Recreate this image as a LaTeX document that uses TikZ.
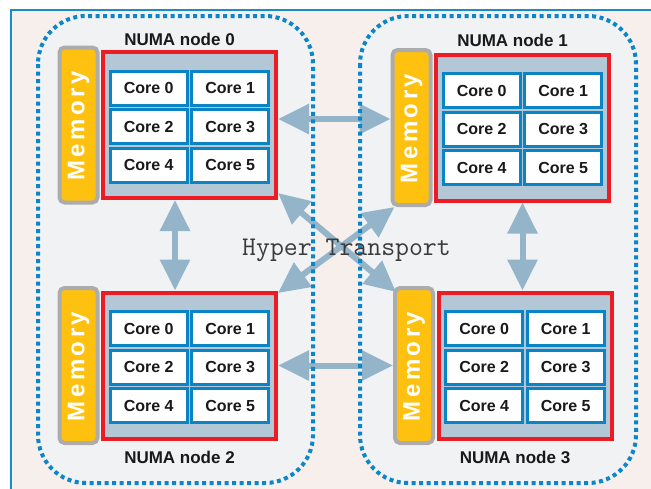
\documentclass[tikz,border=0pt]{standalone}
\usepackage{fontspec}
\setsansfont{Liberation Sans}
\usepackage{tikz}
\usetikzlibrary{arrows.meta,positioning}

\definecolor{framebl}{HTML}{1A8CC8}
\definecolor{bgpink}{HTML}{F7EFEC}
\definecolor{colgray}{HTML}{F1F2F4}
\definecolor{dotbl}{HTML}{0A86C9}
\definecolor{memyel}{HTML}{FEC110}
\definecolor{memgray}{HTML}{ACACAC}
\definecolor{cpured}{HTML}{EC1C24}
\definecolor{cpufill}{HTML}{B3C7D6}
\definecolor{corebl}{HTML}{0B84C6}
\definecolor{linkbl}{HTML}{94B5C9}
\definecolor{txtgray}{HTML}{3A3A3A}

\newcommand\memword{M\kern3.5pt e\kern3.5pt m\kern3.5pt o\kern3.5pt r\kern3.5pt y}

\begin{document}
\begin{tikzpicture}[x=1pt,y=-1pt,
	numa/.style={draw=cpured,fill=cpufill,line width=4pt,minimum width=173pt,minimum height=146pt,inner sep=0pt},
	mem/.style={draw=memgray,fill=memyel,line width=4pt,rounded corners=5pt,minimum width=38pt,minimum height=155pt,inner sep=0pt},
	memtext/.style={rotate=90,text=white,font=\sffamily\bfseries\fontsize{24}{24}\selectfont,inner sep=0pt},
	core/.style={draw=corebl,fill=white,line width=3pt,minimum width=77pt,minimum height=34pt,inner sep=0pt,font=\sffamily\bfseries\fontsize{16}{16}\selectfont,text=black!90},
	numalabel/.style={font=\sffamily\bfseries\fontsize{17}{17}\selectfont,text=black!90,inner sep=0pt},
	link/.style={draw=linkbl,line width=6pt,{Triangle[length=31pt,width=29pt]}-{Triangle[length=31pt,width=29pt]}},
	column/.style={rounded corners=48pt}]
				\useasboundingbox (0,0) rectangle (651,488);
				\clip (0,0) rectangle (651,488);
				\fill[white] (0,0) rectangle (651,488);
				\draw[draw=framebl,fill=bgpink,line width=2pt] (11,10) rectangle (680,520);
				\fill[colgray,column] (38,16) rectangle (313,483);
				\fill[colgray,column] (360,16) rectangle (636,483);
				\node[numa] (cpu0) at (189.5,125) {};
				\node[numa] (cpu1) at (522.5,127.5) {};
				\node[numa] (cpu2) at (189.5,365.5) {};
				\node[numa] (cpu3) at (525,365.5) {};
				\foreach \n in {0,...,3}{
					\node[mem,left=1.5pt of cpu\n] (mem\n) {};
					\node[memtext,xshift=-1pt] (mtxt\n) at (mem\n) {\memword};
					\foreach \k/\dx/\dy in {0/-40.75/37,1/40.75/37,2/-40.75/-1.5,3/40.75/-1.5,4/-40.75/-40,5/40.75/-40}
						\node[core,xshift=\dx pt,yshift=\dy pt] (core\n\k) at (cpu\n) {Core \k};
				}
				\node[numalabel,above=4pt of cpu0.north,xshift=-10pt] (lab0) {NUMA node 0};
				\node[numalabel,above=6pt of cpu1.north,xshift=-10pt] (lab1) {NUMA node 1};
				\node[numalabel,below=10pt of cpu2.south,xshift=-10pt] (lab2) {NUMA node 2};
				\node[numalabel,below=10pt of cpu3.south,xshift=-10pt] (lab3) {NUMA node 3};
				\draw[link] ([yshift=6pt]cpu0.east) -- ([yshift=8.5pt]mem1.west);
				\draw[link] (cpu2.east) -- (mem3.west);
				\draw[link] ([xshift=-14.5pt]cpu0.south) -- ([xshift=-14.5pt]cpu2.north);
				\draw[link] (cpu1.south) -- (cpu1.south |- cpu3.north);
				\draw[link] ([yshift=7pt]cpu0.south east) -- ([xshift=3pt,yshift=-6pt]mem3.north west);
				\draw[link] ([xshift=4pt]mem1.south west) -- ([yshift=-2.5pt]cpu2.north east);
				\draw[dotbl,line width=4pt,dash pattern=on 4pt off 3.5pt,column] (38,16) rectangle (313,483);
				\draw[dotbl,line width=4pt,dash pattern=on 4pt off 3.5pt,column] (360,16) rectangle (636,483);
				\node[font=\ttfamily\fontsize{27}{27}\selectfont,text=txtgray,anchor=base,inner sep=0pt] (ht) at (346.5,255) {Hyper Transport};
\end{tikzpicture}
\end{document}
